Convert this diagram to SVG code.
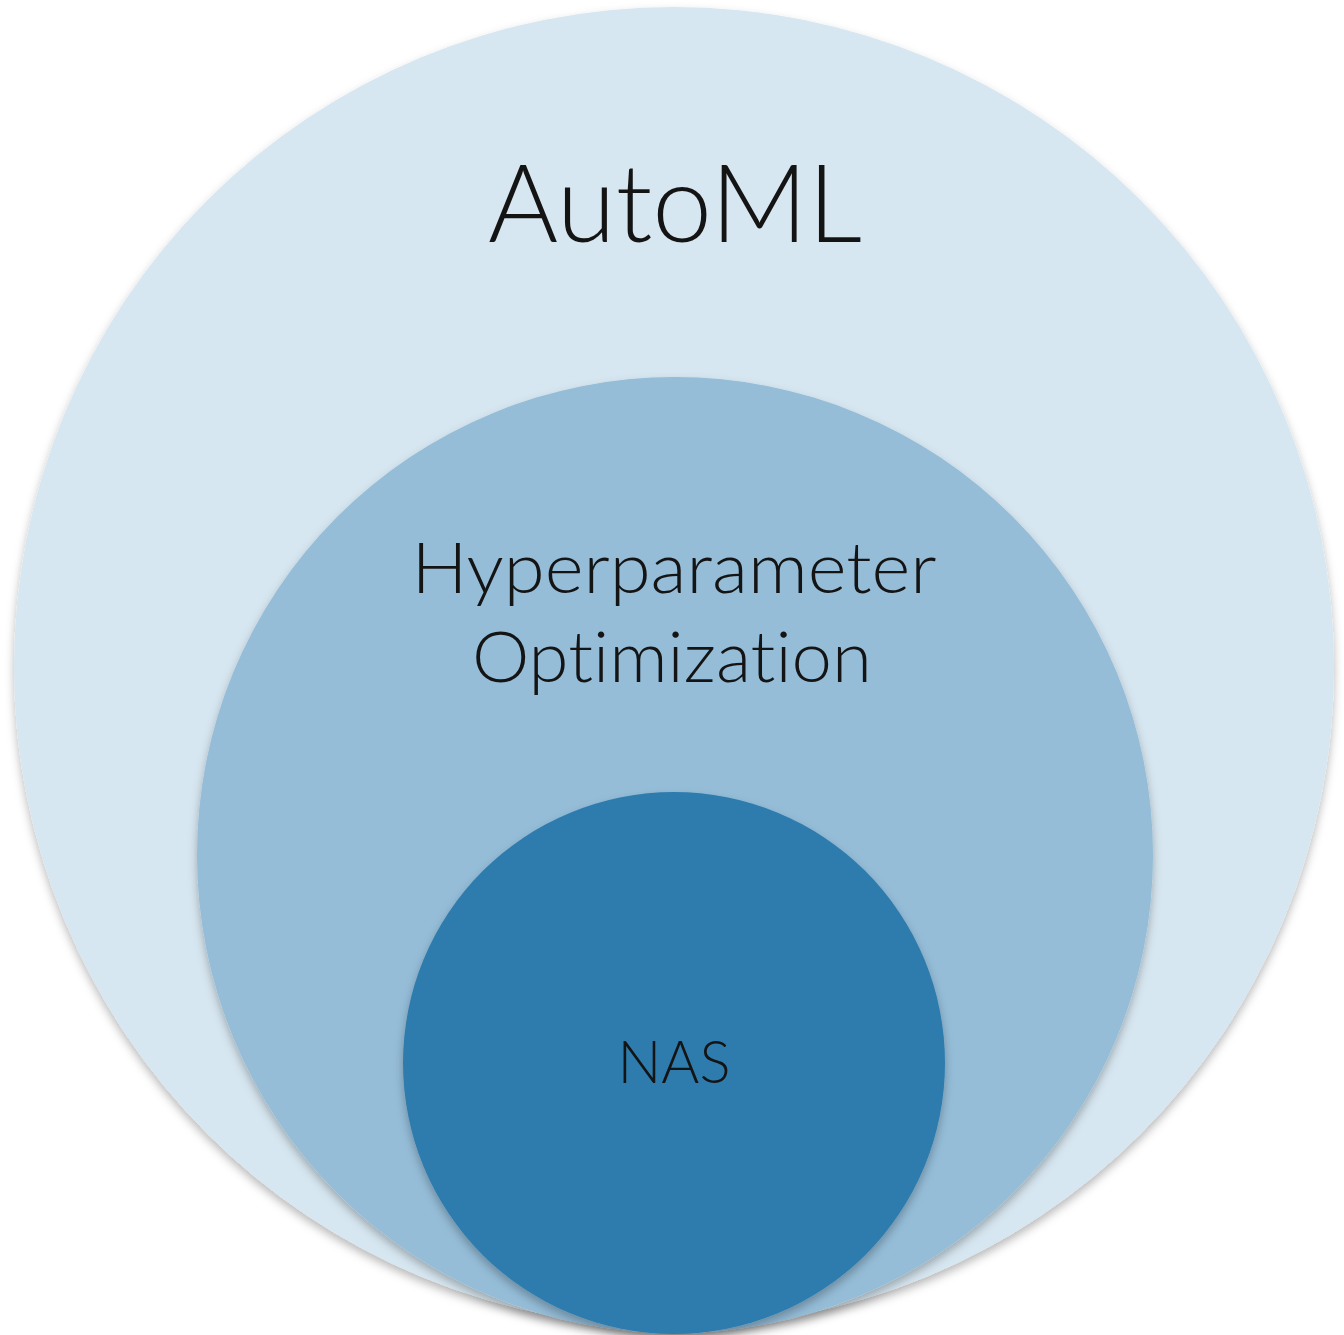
<svg xmlns="http://www.w3.org/2000/svg" width="1344" height="1335" viewBox="0 0 1344 1335">
  <style>
    .lbl { font-family: Lato, "Liberation Sans", Arial, sans-serif; font-weight: 300; fill: #141414; text-anchor: middle; font-variant-ligatures: none; font-feature-settings: "liga" 0, "clig" 0, "dlig" 0; }
  </style>
  <defs>
    <filter id="sh" x="-10%" y="-10%" width="120%" height="120%">
      <feDropShadow dx="0" dy="5" stdDeviation="5" flood-color="#000" flood-opacity="0.28"/>
    </filter>
  </defs>
  <rect width="1344" height="1335" fill="#ffffff"/>
  <g id="automl">
    <circle cx="674" cy="667" r="660" fill="#d7e7f1" filter="url(#sh)"/>
    <text class="lbl" x="675" y="242" font-size="108" textLength="374" lengthAdjust="spacingAndGlyphs">AutoML</text>
  </g>
  <g id="hpo">
    <circle cx="675" cy="855" r="478" fill="#95bdd8" filter="url(#sh)"/>
    <text class="lbl" x="674" y="593" font-size="70" textLength="525" lengthAdjust="spacingAndGlyphs">Hyperparameter</text>
    <text class="lbl" x="672" y="682" font-size="70" textLength="400" lengthAdjust="spacingAndGlyphs">Optimization</text>
  </g>
  <g id="nas">
    <circle cx="674" cy="1063" r="271" fill="#2e7cad" filter="url(#sh)"/>
    <text class="lbl" x="674" y="1083" font-size="60" textLength="113" lengthAdjust="spacingAndGlyphs">NAS</text>
  </g>
  <g id="connectors"/>
</svg>
